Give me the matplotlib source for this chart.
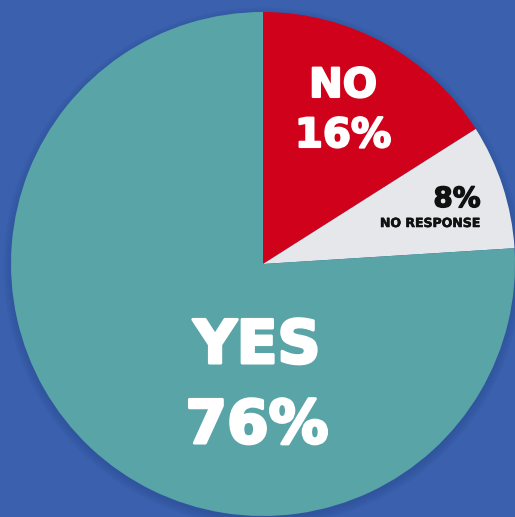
import numpy as np
import matplotlib.pyplot as plt
import matplotlib.patheffects as pe
from matplotlib.patches import Circle

labels = ['NO', 'NO RESPONSE', 'YES']
values = [16, 8, 76]
colors = ['#d0021b', '#e5e7ea', '#58a4a7']
bg = '#3a60ae'

fig = plt.figure(figsize=(5.15, 5.17), dpi=100)
fig.patch.set_facecolor(bg)
ax = fig.add_axes([0, 0, 1, 1])
ax.set_facecolor(bg)

# pie centre at pixel (263, 264), radius 252 px
R = 252.0
cx, cy = 263.0, 264.0

# soft shadow under the pie
for i in range(6):
    ax.add_patch(Circle((0.0, -0.012), 1.0 + 0.006 * i, color='#1c3570',
                        alpha=0.04, lw=0, zorder=0))

wedges, _ = ax.pie(values, colors=colors, startangle=90, counterclock=False,
                   radius=1.0, wedgeprops=dict(linewidth=0))
for w in wedges:
    w.set_zorder(1)

def px(x, y):
    return (x - cx) / R, (cy - y) / R

font = 'DejaVu Sans'
def label(x, y, s, size, col, sw):
    xd, yd = px(x, y)
    ax.text(xd, yd, s, color=col, fontsize=size, fontweight='bold',
            ha='center', va='baseline', family=font, zorder=3,
            path_effects=[pe.withStroke(linewidth=sw, foreground=col)])

# NO slice
label(343, 97, labels[0], 29, 'white', 1.5)
label(343, 147, f'{values[0]}%', 29, 'white', 1.5)
# no response slice
label(457, 207, f'{values[1]}%', 20, '#111111', 1.0)
label(430, 227, labels[1], 9, '#111111', 0.4)
# yes slice
label(257, 363, labels[2], 43, 'white', 2.2)
label(257, 443, f'{values[2]}%', 43, 'white', 2.2)

ax.set_xlim(-cx / R, (515 - cx) / R)
ax.set_ylim(-(517 - cy) / R, cy / R)
ax.set_aspect('auto')
ax.axis('off')

fig.savefig('out.png', dpi=100, facecolor=bg)
